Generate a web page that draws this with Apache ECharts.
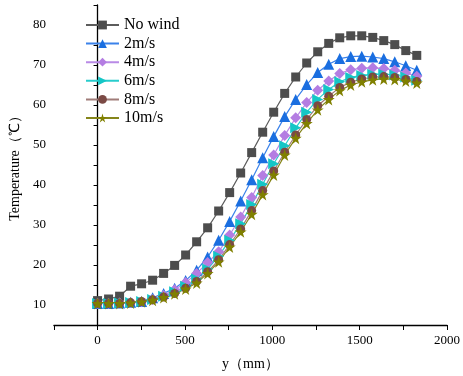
<!DOCTYPE html>
<html>
<head>
<meta charset="utf-8">
<script src="https://cdn.jsdelivr.net/npm/echarts@6/dist/echarts.min.js"></script>
<style>
html, body { margin: 0; padding: 0; background: #fff; }
#chart { width: 463px; height: 376px; }
</style>
</head>
<body>
<div id="chart"></div>
<script>
// 위치 (mm)
var yPos = [0, 63, 126, 189, 252, 315, 378, 441, 504, 567, 630, 693, 756, 819, 882,
	945, 1008, 1071, 1134, 1197, 1260, 1323, 1386, 1449, 1512, 1575, 1638, 1701, 1764, 1827];

// 온도 (℃)
var noWind = [11.1, 11.5, 12.2, 14.7, 15.3, 16.2, 17.9, 19.9, 22.5, 25.8, 29.3, 33.5, 38.1, 43.0, 48.1,
	53.2, 58.2, 62.9, 67.0, 70.5, 73.3, 75.4, 76.8, 77.3, 77.3, 76.9, 76.1, 75.1, 73.6, 72.4];
var wind2 = [10.4, 10.4, 10.5, 10.7, 10.9, 11.8, 12.9, 14.2, 16.1, 18.7, 22.0, 26.2, 30.9, 36.0, 41.3,
	46.8, 52.1, 57.1, 61.4, 65.1, 68.1, 70.2, 71.6, 72.1, 72.2, 72.0, 71.6, 70.8, 69.8, 68.7];
var wind4 = [10.4, 10.4, 10.5, 10.6, 10.8, 11.4, 12.4, 13.8, 15.6, 17.9, 20.6, 23.3, 27.5, 32.0, 36.9,
	42.4, 47.5, 52.4, 56.8, 60.6, 63.7, 66.0, 67.9, 68.8, 69.2, 69.3, 69.1, 68.7, 68.0, 67.2];
var wind6 = [10.4, 10.4, 10.5, 10.6, 10.9, 11.4, 12.2, 13.3, 14.7, 16.5, 19.0, 22.2, 26.2, 30.3, 35.1,
	40.2, 45.3, 49.8, 54.3, 58.2, 61.4, 63.9, 65.8, 66.9, 67.4, 67.7, 67.7, 67.5, 67.0, 66.2];
var wind8 = [10.4, 10.4, 10.4, 10.6, 10.9, 11.3, 12.0, 12.9, 14.2, 15.9, 18.3, 21.3, 25.1, 29.0, 33.6,
	38.6, 43.5, 48.2, 52.5, 56.4, 59.8, 62.2, 64.4, 65.7, 66.5, 67.0, 67.1, 66.9, 66.4, 65.9];
var wind10 = [10.4, 10.4, 10.4, 10.5, 10.8, 11.2, 11.9, 12.8, 14.0, 15.5, 17.9, 20.8, 24.5, 28.3, 32.7,
	37.6, 42.5, 47.5, 51.7, 55.4, 58.8, 61.4, 63.6, 65.0, 65.8, 66.3, 66.5, 66.4, 66.0, 65.5];

var seriesNames = ['No wind', '2m/s', '4m/s', '6m/s', '8m/s', '10m/s'];

var starPath = 'path://M50,0 L61,35 L98,35 L68,57 L79,91 L50,70 L21,91 L32,57 L2,35 L39,35 Z';

function pairs(vals) {
	var out = [];
	for (var i = 0; i < vals.length; i++) {
		out.push([yPos[i], vals[i]]);
	}
	return out;
}

function makeSeries(name, vals, symbol, size, rotate, markColor, lineColor) {
	return {
		name: name,
		type: 'line',
		data: pairs(vals),
		symbol: symbol,
		symbolSize: size,
		symbolRotate: rotate,
		showAllSymbol: true,
		itemStyle: { color: markColor, opacity: 1 },
		lineStyle: { color: lineColor, width: 1.2 },
		emphasis: { disabled: true },
		animation: false
	};
}

var chart = echarts.init(document.getElementById('chart'));
var option = {
	backgroundColor: '#fff',
	grid: { left: 53, right: 12, top: 5, bottom: 51 },
	legend: {
		orient: 'vertical',
		left: 80,
		top: 12,
		itemWidth: 33,
		itemHeight: 11,
		itemGap: 2.6,
		textStyle: { fontFamily: 'Liberation Serif', fontSize: 16, color: '#000', lineHeight: 16 },
		data: seriesNames
	},
	xAxis: {
		type: 'value',
		min: -250,
		max: 2000,
		interval: 250,
		name: 'y（mm）',
		nameLocation: 'middle',
		nameGap: 32,
		nameTextStyle: { fontFamily: 'Liberation Serif', fontSize: 14, color: '#000' },
		axisLine: { onZero: false, lineStyle: { color: '#000', width: 1.3 } },
		axisTick: { show: true, length: 5, lineStyle: { color: '#000' } },
		axisLabel: {
			fontFamily: 'Liberation Serif', fontSize: 13, color: '#000', margin: 9,
			formatter: function(v) { return v % 500 === 0 ? String(v) : ''; }
		},
		splitLine: { show: false }
	},
	yAxis: {
		type: 'value',
		min: 5,
		max: 85,
		interval: 5,
		name: 'Temperature（℃）',
		nameLocation: 'middle',
		nameGap: 27,
		nameTextStyle: { fontFamily: 'Liberation Serif', fontSize: 14, color: '#000' },
		axisLine: { show: true, lineStyle: { color: '#000', width: 1.3 } },
		axisTick: { show: true, length: 4, lineStyle: { color: '#000' } },
		axisLabel: {
			fontFamily: 'Liberation Serif', fontSize: 13, color: '#000', margin: 8,
			formatter: function(v) { return (v % 10 === 0 && v > 5 && v < 85) ? String(v) : ''; }
		},
		splitLine: { show: false }
	},
	series: [
		makeSeries('No wind', noWind, 'rect', 9, 0, '#4d4d4d', '#5c5c5c'),
		makeSeries('2m/s', wind2, 'triangle', 11, 0, '#1a6ee0', '#3b82ea'),
		makeSeries('4m/s', wind4, 'diamond', 11, 0, '#b47de2', '#b98ae6'),
		makeSeries('6m/s', wind6, 'triangle', 11, -90, '#15c6c6', '#28cccc'),
		makeSeries('8m/s', wind8, 'circle', 9, 0, '#7b4a45', '#a07c79'),
		makeSeries('10m/s', wind10, starPath, 12, 0, '#808000', '#85851a')
	]
};
chart.setOption(option);
</script>
</body>
</html>
